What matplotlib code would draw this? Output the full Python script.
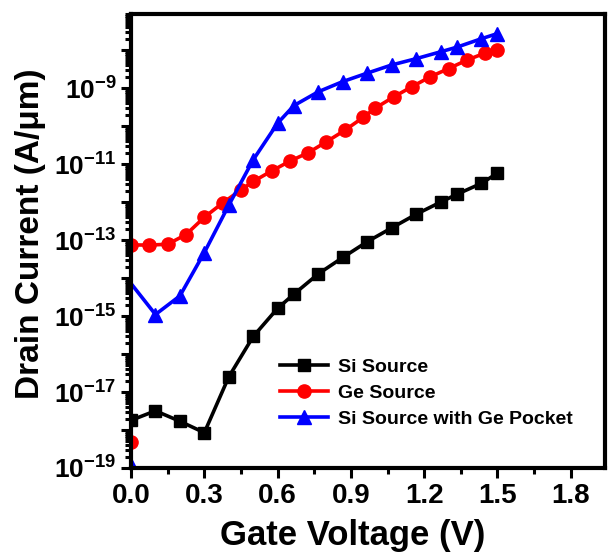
import matplotlib
matplotlib.use('Agg')
import matplotlib.pyplot as plt
import matplotlib.ticker as mticker
import numpy as np

plt.rcParams['font.family'] = ['Liberation Sans', 'DejaVu Sans']
plt.rcParams['font.weight'] = 'bold'
plt.rcParams['mathtext.fontset'] = 'custom'
plt.rcParams['mathtext.rm'] = 'Liberation Sans:bold'
plt.rcParams['mathtext.bf'] = 'Liberation Sans:bold'
plt.rcParams['mathtext.default'] = 'bf'

# Si source (black squares)
si_vg = [0.0, 0.1, 0.2, 0.3, 0.4, 0.5, 0.6, 0.667, 0.767, 0.867, 0.967,
         1.067, 1.167, 1.267, 1.333, 1.433, 1.5]
si_id = [1.8e-18, 3.2e-18, 1.7e-18, 8.5e-19, 2.5e-17, 2.9e-16, 1.6e-15,
         3.8e-15, 1.3e-14, 3.5e-14, 9.1e-14, 2.1e-13, 4.8e-13, 1.0e-12,
         1.6e-12, 3.1e-12, 5.8e-12]

# Ge source (red circles)
ge_vg = [0.0, 0.0, 0.075, 0.15, 0.225, 0.3, 0.375, 0.45, 0.5, 0.575, 0.65,
         0.725, 0.8, 0.875, 0.95, 1.0, 1.075, 1.15, 1.225, 1.3, 1.375,
         1.45, 1.5]
ge_id = [4.7e-19, 7.5e-14, 7.4e-14, 7.8e-14, 1.4e-13, 4.0e-13, 9.5e-13,
         2.1e-12, 3.5e-12, 6.6e-12, 1.2e-11, 2.0e-11, 3.9e-11, 7.8e-11,
         1.7e-10, 3.0e-10, 5.9e-10, 1.1e-9, 2.0e-9, 3.3e-9, 5.5e-9,
         8.5e-9, 1.0e-8]

# Si source with Ge pocket (blue triangles)
gp_vg = [0.0, 0.0, 0.1, 0.2, 0.3, 0.4, 0.5, 0.6, 0.667, 0.767, 0.867,
         0.967, 1.067, 1.167, 1.267, 1.333, 1.433, 1.5]
gp_id = [1.2e-19, 7.2e-15, 1.1e-15, 3.4e-15, 4.7e-14, 8.3e-13, 1.3e-11,
         1.2e-10, 3.5e-10, 8.1e-10, 1.5e-9, 2.5e-9, 4.1e-9, 6.0e-9,
         9.1e-9, 1.2e-8, 2.0e-8, 2.75e-8]

fig = plt.figure(figsize=(6.1, 5.56), dpi=100)
ax = fig.add_axes([0.2148, 0.1583, 0.777, 0.8165])

ax.plot(si_vg, si_id, 'k-s', lw=2.6, ms=8, label='Si Source')
ax.plot(ge_vg, ge_id, '-o', color='#ff0000', lw=2.6, ms=9.5,
        label='Ge Source')
ax.plot(gp_vg, gp_id, '-^', color='#0000ff', lw=2.6, ms=10.5,
        markevery=[0] + list(range(2, len(gp_vg))),
        label='Si Source with Ge Pocket')

ax.set_yscale('log')
ax.set_xlim(0, 1.94)
ax.set_ylim(1e-19, 9e-8)

ax.xaxis.set_major_locator(mticker.MultipleLocator(0.3))
ax.xaxis.set_minor_locator(mticker.MultipleLocator(0.15))
ax.xaxis.set_major_formatter(mticker.FormatStrFormatter('%.1f'))

ax.yaxis.set_major_locator(mticker.FixedLocator(10.0 ** np.arange(-19, -6)))
ax.yaxis.set_minor_locator(mticker.LogLocator(base=10, subs=np.arange(2, 10),
                                              numticks=100))


def yfmt(v, pos):
    e = int(round(np.log10(v)))
    if e % 2 == 0:
        return ''
    return r'$10^{%d}$' % e


ax.yaxis.set_major_formatter(mticker.FuncFormatter(yfmt))
ax.yaxis.set_minor_formatter(mticker.NullFormatter())

ax.tick_params(which='both', direction='out', top=False, right=False,
               width=2.2)
ax.tick_params(axis='x', labelsize=20)
ax.tick_params(axis='y', labelsize=19)
ax.tick_params(which='major', length=7)
ax.tick_params(which='minor', length=4)
for s in ax.spines.values():
    s.set_linewidth(3)

ax.set_xlabel('Gate Voltage (V)', fontsize=25, fontweight='bold')
ax.set_ylabel('Drain Current (A/\u03bcm)', fontsize=24, fontweight='bold')
ax.xaxis.set_label_coords(0.468, -0.112)
ax.yaxis.set_label_coords(-0.18, 0.515)

ax.legend(loc='center left', bbox_to_anchor=(0.314, 0.165), frameon=False,
          prop={'size': 14, 'weight': 'bold'}, handlelength=2.5,
          handletextpad=0.5, labelspacing=0.45, borderpad=0, borderaxespad=0)

plt.savefig('out.png', dpi=100)
